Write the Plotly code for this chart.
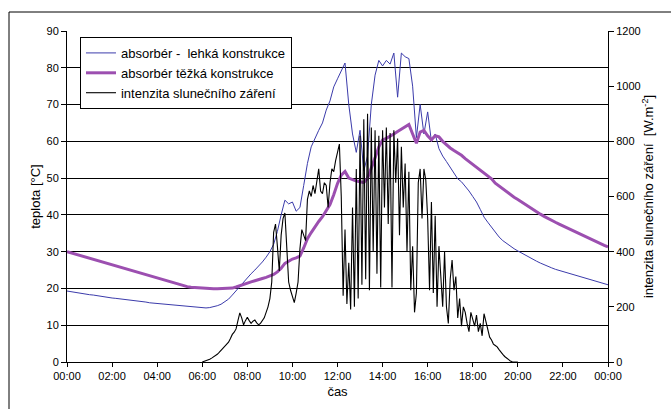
import numpy as np
import plotly.graph_objects as go

# ---- data ----
tick_labels = ["00:00", "02:00", "04:00", "06:00", "08:00", "10:00", "12:00",
               "14:00", "16:00", "18:00", "20:00", "22:00", "00:00"]
tick_hours = list(range(0, 25, 2))

# absorber - light construction [deg C], 10-minute samples from 00:00 to 24:00
light = [
    19.3, 19.1, 19.0, 18.8, 18.7, 18.5,
    18.3, 18.2, 18.0, 17.9, 17.7, 17.6,
    17.4, 17.3, 17.2, 17.0, 16.9, 16.8,
    16.6, 16.5, 16.4, 16.3, 16.1, 16.0,
    15.9, 15.8, 15.7, 15.6, 15.5, 15.3,
    15.2, 15.1, 15.0, 14.9, 14.8, 14.8,
    14.7, 14.7, 14.8, 15.0, 15.3, 15.7,
    16.3, 17.1, 18.2, 19.4, 20.6, 21.8,
    23.0, 24.0, 25.0, 26.0, 27.2, 28.5,
    30.0, 32.0, 35.5, 40.0, 44.0, 43.0,
    43.5, 41.0, 42.0, 48.0, 54.0, 58.5,
    61.0, 63.0, 65.0, 68.5, 71.0, 74.8,
    77.0, 79.0, 81.3, 70.0, 62.0, 57.0,
    63.0, 52.0, 56.0, 70.0, 78.0, 82.0,
    80.5, 82.0, 81.0, 84.0, 72.0, 84.0,
    83.0, 82.5, 75.0, 61.0, 70.0, 62.0,
    68.0, 60.0, 62.0, 58.0, 56.0, 54.5,
    53.0, 51.4, 49.8, 49.0, 47.8, 46.5,
    45.0, 43.5, 41.5, 39.4, 38.0, 36.6,
    35.3, 34.0, 33.0, 32.2, 31.4, 30.8,
    30.2, 29.6, 29.0, 28.4, 27.9, 27.4,
    26.9, 26.4, 26.0, 25.6, 25.2, 24.9,
    24.6, 24.3, 24.0, 23.7, 23.4, 23.1,
    22.8, 22.5, 22.2, 21.9, 21.6, 21.3,
    21.0,
]

# absorber - heavy construction [deg C], 10-minute samples from 00:00 to 24:00
heavy = [
    30.0, 29.7, 29.4, 29.1, 28.8, 28.5,
    28.2, 27.9, 27.6, 27.3, 27.0, 26.6,
    26.3, 26.0, 25.7, 25.4, 25.1, 24.8,
    24.5, 24.2, 23.9, 23.6, 23.3, 23.0,
    22.8, 22.5, 22.2, 21.9, 21.6, 21.3,
    21.0, 20.8, 20.5, 20.3, 20.2, 20.1,
    20.0, 19.9, 19.9, 19.9, 19.9, 19.9,
    19.9, 20.0, 20.1, 20.4, 20.8, 21.2,
    21.5, 21.8, 22.1, 22.3, 22.7, 23.0,
    23.4, 23.8, 24.5, 25.5, 26.8, 27.5,
    28.0, 28.3, 28.8, 31.0, 33.5, 35.2,
    36.8, 38.2, 39.5, 41.0, 42.8, 45.5,
    48.5, 50.8, 51.8, 50.0, 49.5, 49.2,
    49.0, 48.8, 50.0, 52.5, 55.5, 58.5,
    60.4, 60.8, 61.3, 62.0, 62.7, 63.3,
    64.0, 64.6, 62.0, 59.5, 62.5, 63.0,
    61.5, 60.4, 61.5, 61.2, 60.0, 59.0,
    58.2, 57.5, 56.9, 56.2, 55.3, 54.5,
    53.6, 52.8, 52.0, 51.3, 50.6, 49.8,
    48.6, 47.8, 47.0, 46.2, 45.5, 44.8,
    44.2, 43.5, 42.8, 42.2, 41.5, 40.8,
    40.2, 39.6, 39.0, 38.5, 38.0, 37.5,
    37.0, 36.5, 36.0, 35.6, 35.1, 34.6,
    34.1, 33.6, 33.1, 32.6, 32.2, 31.7,
    31.3,
]

# solar irradiance [W/m2], 5-minute samples from 06:00 to 20:00
irradiance = [
    0, 2, 5, 8, 10, 14, 18, 22, 28, 35, 42, 50,
    58, 66, 72, 85, 100, 108, 120, 150, 178, 160, 135, 150,
    162, 150, 140, 148, 152, 142, 135, 140, 150, 160, 180, 200,
    230, 290, 470, 500, 420, 330, 460, 520, 540, 430, 290, 260,
    240, 215, 250, 290, 410, 480, 460, 440, 590, 620, 600, 640,
    610, 660, 700, 620, 610, 650, 640, 560, 650, 700, 690, 730,
    760, 790, 600, 240, 480, 210, 360, 190, 560, 200, 700, 230,
    820, 280, 880, 300, 900, 260, 850, 400, 840, 320, 820, 270,
    840, 560, 850, 500, 830, 270, 840, 650, 810, 460, 780, 560,
    720, 400, 690, 260, 420, 180, 250, 650, 700, 520, 700, 660,
    520, 260, 580, 250, 530, 200, 420, 300, 200, 400, 200, 140,
    300, 370, 260, 310, 160, 230, 130, 200, 180, 140, 110, 180,
    150, 130, 170, 110, 140, 95, 175, 150, 120, 90, 80, 65,
    60, 55, 45, 35, 28, 20, 14, 8, 4, 1, 0, 0,
    0,
]

names = ["absorbér -  lehká konstrukce", "absorbér těžká konstrukce",
         "intenzita slunečního záření"]

t_temp = np.arange(len(light)) / 6.0
t_irr = 6.0 + np.arange(len(irradiance)) / 12.0

fig = go.Figure()
fig.add_trace(go.Scatter(x=t_temp, y=light, name=names[0], mode="lines",
                         line=dict(color="#3b3bab", width=1)))
fig.add_trace(go.Scatter(x=t_temp, y=heavy, name=names[1], mode="lines",
                         line=dict(color="#9c4fb0", width=3)))
fig.add_trace(go.Scatter(x=t_irr, y=irradiance, name=names[2], mode="lines",
                         line=dict(color="#000000", width=1.1), yaxis="y2"))

font = dict(family="Liberation Sans, Arial, sans-serif", size=11, color="#000000")

fig.update_layout(
    width=671, height=409,
    margin=dict(l=67, r=63, t=31, b=47, autoexpand=False),
    paper_bgcolor="white", plot_bgcolor="white",
    font=font,
    showlegend=True,
    legend=dict(x=0.024, y=0.982, xanchor="left", yanchor="top",
                bgcolor="white", bordercolor="black", borderwidth=1,
                font=dict(family="Liberation Sans, Arial, sans-serif", size=13, color="#000"),
                itemwidth=30, tracegroupgap=0),
    xaxis=dict(range=[0, 24], tickvals=tick_hours, ticktext=tick_labels,
               showgrid=False, zeroline=False, showline=True, linecolor="black",
               linewidth=1, ticks="outside", ticklen=4, tickcolor="black",
               automargin=False,
               title=dict(text="čas", standoff=5)),
    yaxis=dict(range=[0, 90], dtick=10, showgrid=True, gridcolor="black",
               gridwidth=1, zeroline=False, showline=True, linecolor="black",
               linewidth=1, ticks="outside", ticklen=5, tickcolor="black",
               automargin=False,
               title=dict(text="teplota [°C]", standoff=2)),
    yaxis2=dict(range=[0, 1200], dtick=200, overlaying="y", side="right",
                showgrid=False, zeroline=False, showline=True, linecolor="black",
                linewidth=1, ticks="outside", ticklen=5, tickcolor="black",
                automargin=False,
                title=dict(text="intenzita slunečního záření  [W.m<sup>-2</sup>]", standoff=4)),
    shapes=[
        dict(type="line", xref="paper", yref="paper", x0=-0.1072, x1=1.2,
             y0=1.0574, y1=1.0574, line=dict(color="black", width=1)),
        dict(type="line", xref="paper", yref="paper", x0=-0.1072, x1=-0.1072,
             y0=1.0574, y1=-0.3, line=dict(color="black", width=1)),
    ],
)

fig.write_html("out.html", config={"displayModeBar": False},
               post_script="document.body.style.margin='0';document.body.style.padding='0';")
